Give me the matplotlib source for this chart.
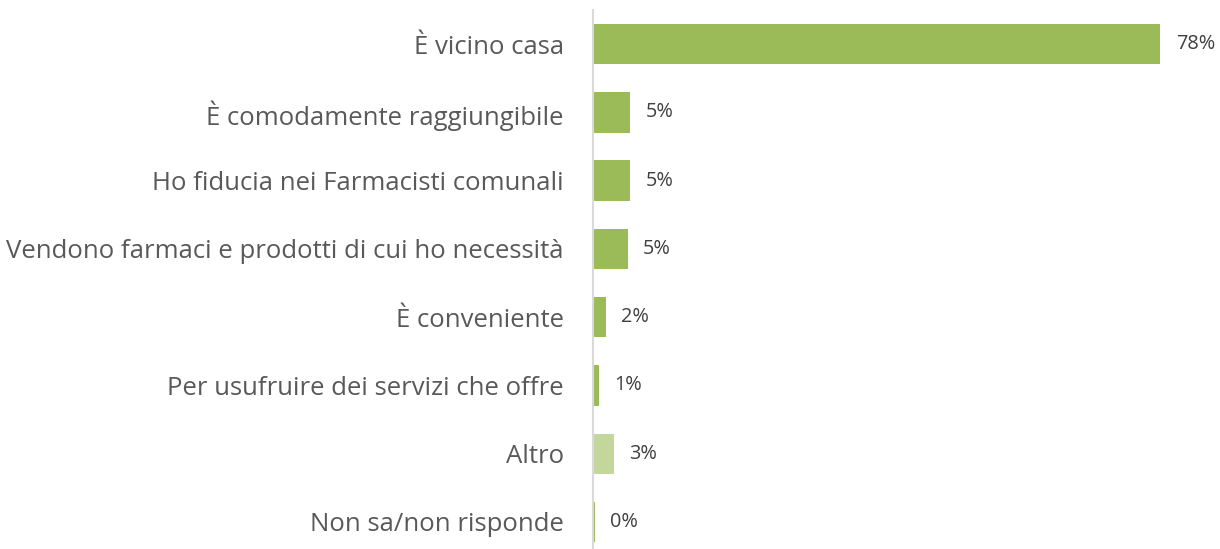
import matplotlib.pyplot as plt

categories = ["È vicino casa", "È comodamente raggiungibile",
              "Ho fiducia nei Farmacisti comunali",
              "Vendono farmaci e prodotti di cui ho necessità",
              "È conveniente", "Per usufruire dei servizi che offre",
              "Altro", "Non sa/non risponde"]
values = [78, 5.1, 5.1, 4.8, 1.8, 0.8, 2.9, 0.3]
colors = ["#9BBB59"] * 6 + ["#C3D69B", "#9BBB59"]

plt.rcParams['font.family'] = ['Open Sans', 'DejaVu Sans']

fig = plt.figure(figsize=(12.2, 5.49), dpi=100)
ax = fig.add_axes([0.486, -0.0128, 0.498, 0.9946])

ypos = range(len(categories))
ax.barh(ypos, values, height=0.59, color=colors)
for y, v in zip(ypos, values):
    ax.annotate(f"{round(v)}%", (v, y), xytext=(11, 0), textcoords="offset points",
                va="center", ha="left", fontsize=14.3, color="#404040")

ax.set_yticks(list(ypos))
ax.set_yticklabels(categories, fontsize=18.5, color="#595959")
ax.set_ylim(len(categories) - 0.5, -0.5)
ax.set_xlim(0, 83.5)
ax.set_xticks([])
ax.tick_params(axis="y", length=0, pad=21)
for s in ["top", "right", "bottom"]:
    ax.spines[s].set_visible(False)
ax.spines["left"].set_color("#D9D9D9")
ax.spines["left"].set_linewidth(1.5)

fig.savefig("out.png", dpi=100)
